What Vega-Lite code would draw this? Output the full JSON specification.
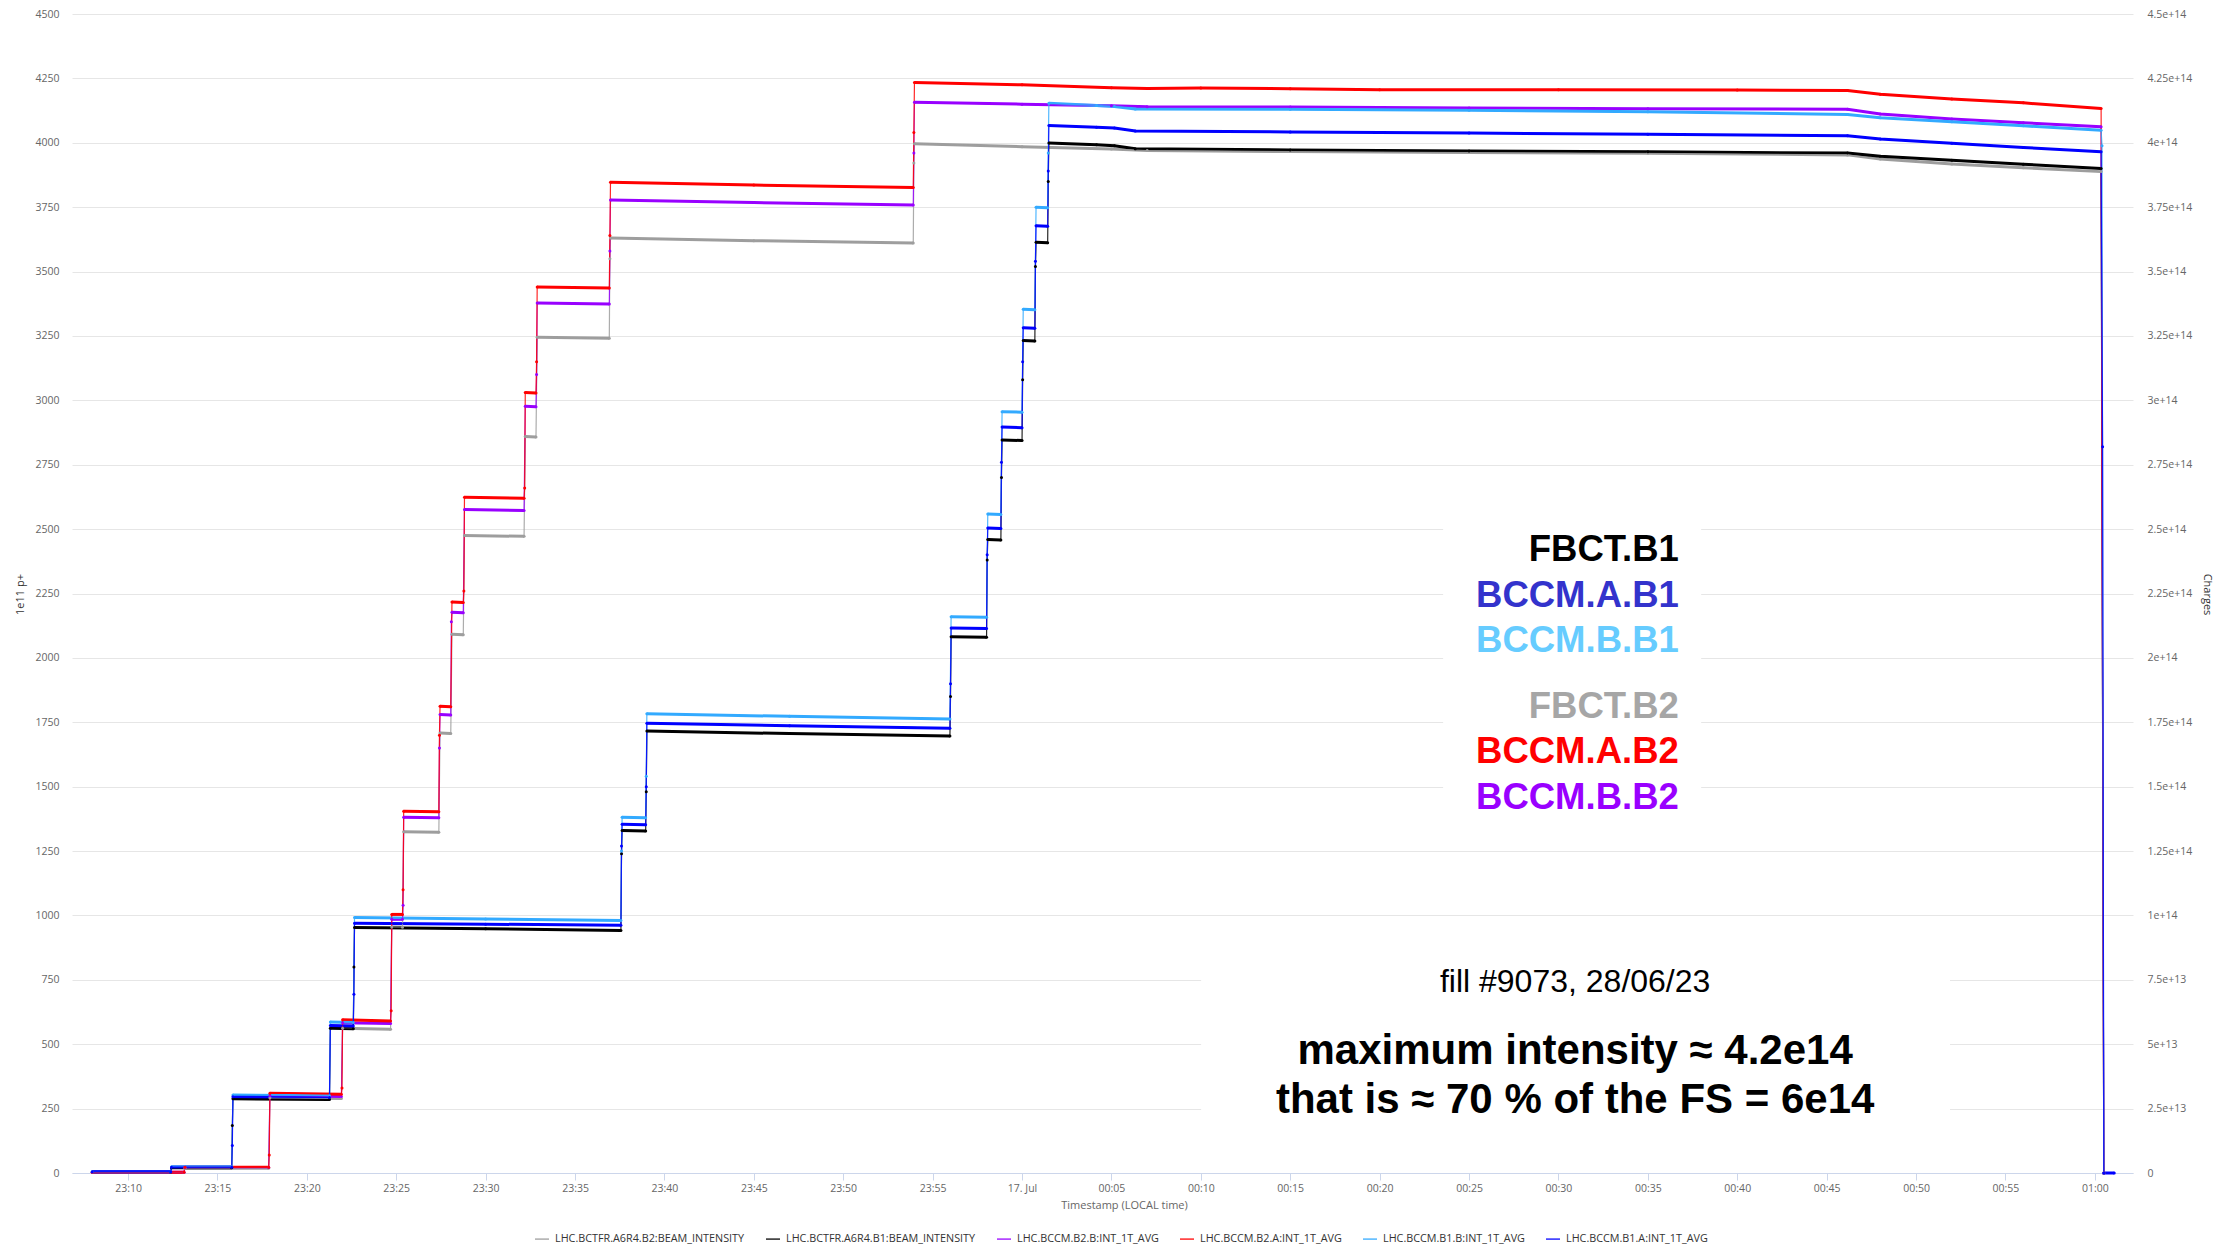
{
  "$schema": "https://vega.github.io/schema/vega-lite/v6.json",
  "width": 2061,
  "height": 1159,
  "autosize": {"type": "none"},
  "padding": {"left": 72, "top": 14, "right": 96, "bottom": 73},
  "background": "white",
  "config": {"view": {"stroke": null}, "font": "Open Sans"},
  "datasets": {
    "series": [
      {"s": "LHC.BCTFR.A6R4.B2:BEAM_INTENSITY", "seg": 1, "t": "2023-07-16T23:08:00Z", "v": 2},
      {"s": "LHC.BCTFR.A6R4.B2:BEAM_INTENSITY", "seg": 1, "t": "2023-07-16T23:13:08Z", "v": 2},
      {"s": "LHC.BCTFR.A6R4.B2:BEAM_INTENSITY", "seg": 2, "t": "2023-07-16T23:13:11Z", "v": 18},
      {"s": "LHC.BCTFR.A6R4.B2:BEAM_INTENSITY", "seg": 2, "t": "2023-07-16T23:17:52Z", "v": 18},
      {"s": "LHC.BCTFR.A6R4.B2:BEAM_INTENSITY", "seg": 3, "t": "2023-07-16T23:17:56Z", "v": 292},
      {"s": "LHC.BCTFR.A6R4.B2:BEAM_INTENSITY", "seg": 3, "t": "2023-07-16T23:21:56Z", "v": 289},
      {"s": "LHC.BCTFR.A6R4.B2:BEAM_INTENSITY", "seg": 4, "t": "2023-07-16T23:22:00Z", "v": 562},
      {"s": "LHC.BCTFR.A6R4.B2:BEAM_INTENSITY", "seg": 4, "t": "2023-07-16T23:24:41Z", "v": 558},
      {"s": "LHC.BCTFR.A6R4.B2:BEAM_INTENSITY", "seg": 5, "t": "2023-07-16T23:24:45Z", "v": 955},
      {"s": "LHC.BCTFR.A6R4.B2:BEAM_INTENSITY", "seg": 5, "t": "2023-07-16T23:25:21Z", "v": 954},
      {"s": "LHC.BCTFR.A6R4.B2:BEAM_INTENSITY", "seg": 6, "t": "2023-07-16T23:25:25Z", "v": 1325},
      {"s": "LHC.BCTFR.A6R4.B2:BEAM_INTENSITY", "seg": 6, "t": "2023-07-16T23:27:23Z", "v": 1323},
      {"s": "LHC.BCTFR.A6R4.B2:BEAM_INTENSITY", "seg": 7, "t": "2023-07-16T23:27:27Z", "v": 1708},
      {"s": "LHC.BCTFR.A6R4.B2:BEAM_INTENSITY", "seg": 7, "t": "2023-07-16T23:28:03Z", "v": 1706},
      {"s": "LHC.BCTFR.A6R4.B2:BEAM_INTENSITY", "seg": 8, "t": "2023-07-16T23:28:07Z", "v": 2092},
      {"s": "LHC.BCTFR.A6R4.B2:BEAM_INTENSITY", "seg": 8, "t": "2023-07-16T23:28:45Z", "v": 2090},
      {"s": "LHC.BCTFR.A6R4.B2:BEAM_INTENSITY", "seg": 9, "t": "2023-07-16T23:28:49Z", "v": 2475},
      {"s": "LHC.BCTFR.A6R4.B2:BEAM_INTENSITY", "seg": 9, "t": "2023-07-16T23:32:09Z", "v": 2472},
      {"s": "LHC.BCTFR.A6R4.B2:BEAM_INTENSITY", "seg": 10, "t": "2023-07-16T23:32:13Z", "v": 2860},
      {"s": "LHC.BCTFR.A6R4.B2:BEAM_INTENSITY", "seg": 10, "t": "2023-07-16T23:32:49Z", "v": 2858},
      {"s": "LHC.BCTFR.A6R4.B2:BEAM_INTENSITY", "seg": 11, "t": "2023-07-16T23:32:53Z", "v": 3245},
      {"s": "LHC.BCTFR.A6R4.B2:BEAM_INTENSITY", "seg": 11, "t": "2023-07-16T23:36:55Z", "v": 3241},
      {"s": "LHC.BCTFR.A6R4.B2:BEAM_INTENSITY", "seg": 50, "t": "2023-07-16T23:36:57Z", "v": 3550},
      {"s": "LHC.BCTFR.A6R4.B2:BEAM_INTENSITY", "seg": 12, "t": "2023-07-16T23:36:59Z", "v": 3630},
      {"s": "LHC.BCTFR.A6R4.B2:BEAM_INTENSITY", "seg": 12, "t": "2023-07-16T23:45:00Z", "v": 3620},
      {"s": "LHC.BCTFR.A6R4.B2:BEAM_INTENSITY", "seg": 12, "t": "2023-07-16T23:53:55Z", "v": 3611},
      {"s": "LHC.BCTFR.A6R4.B2:BEAM_INTENSITY", "seg": 51, "t": "2023-07-16T23:53:57Z", "v": 3921},
      {"s": "LHC.BCTFR.A6R4.B2:BEAM_INTENSITY", "seg": 13, "t": "2023-07-16T23:53:59Z", "v": 3996},
      {"s": "LHC.BCTFR.A6R4.B2:BEAM_INTENSITY", "seg": 13, "t": "2023-07-17T00:00:00Z", "v": 3985},
      {"s": "LHC.BCTFR.A6R4.B2:BEAM_INTENSITY", "seg": 13, "t": "2023-07-17T00:05:00Z", "v": 3976},
      {"s": "LHC.BCTFR.A6R4.B2:BEAM_INTENSITY", "seg": 13, "t": "2023-07-17T00:07:00Z", "v": 3970},
      {"s": "LHC.BCTFR.A6R4.B2:BEAM_INTENSITY", "seg": 13, "t": "2023-07-17T00:15:00Z", "v": 3966},
      {"s": "LHC.BCTFR.A6R4.B2:BEAM_INTENSITY", "seg": 13, "t": "2023-07-17T00:25:00Z", "v": 3962},
      {"s": "LHC.BCTFR.A6R4.B2:BEAM_INTENSITY", "seg": 13, "t": "2023-07-17T00:35:00Z", "v": 3959},
      {"s": "LHC.BCTFR.A6R4.B2:BEAM_INTENSITY", "seg": 13, "t": "2023-07-17T00:46:10Z", "v": 3953},
      {"s": "LHC.BCTFR.A6R4.B2:BEAM_INTENSITY", "seg": 13, "t": "2023-07-17T00:48:00Z", "v": 3937},
      {"s": "LHC.BCTFR.A6R4.B2:BEAM_INTENSITY", "seg": 13, "t": "2023-07-17T00:52:00Z", "v": 3918},
      {"s": "LHC.BCTFR.A6R4.B2:BEAM_INTENSITY", "seg": 13, "t": "2023-07-17T00:56:00Z", "v": 3903},
      {"s": "LHC.BCTFR.A6R4.B2:BEAM_INTENSITY", "seg": 13, "t": "2023-07-17T01:00:21Z", "v": 3888},
      {"s": "LHC.BCTFR.A6R4.B2:BEAM_INTENSITY", "seg": 14, "t": "2023-07-17T01:00:30Z", "v": 0},

      {"s": "LHC.BCTFR.A6R4.B1:BEAM_INTENSITY", "seg": 1, "t": "2023-07-16T23:08:00Z", "v": 4},
      {"s": "LHC.BCTFR.A6R4.B1:BEAM_INTENSITY", "seg": 1, "t": "2023-07-16T23:12:23Z", "v": 4},
      {"s": "LHC.BCTFR.A6R4.B1:BEAM_INTENSITY", "seg": 2, "t": "2023-07-16T23:12:26Z", "v": 20},
      {"s": "LHC.BCTFR.A6R4.B1:BEAM_INTENSITY", "seg": 2, "t": "2023-07-16T23:15:48Z", "v": 20},
      {"s": "LHC.BCTFR.A6R4.B1:BEAM_INTENSITY", "seg": 50, "t": "2023-07-16T23:15:50Z", "v": 184},
      {"s": "LHC.BCTFR.A6R4.B1:BEAM_INTENSITY", "seg": 3, "t": "2023-07-16T23:15:52Z", "v": 288},
      {"s": "LHC.BCTFR.A6R4.B1:BEAM_INTENSITY", "seg": 3, "t": "2023-07-16T23:21:16Z", "v": 285},
      {"s": "LHC.BCTFR.A6R4.B1:BEAM_INTENSITY", "seg": 4, "t": "2023-07-16T23:21:19Z", "v": 562},
      {"s": "LHC.BCTFR.A6R4.B1:BEAM_INTENSITY", "seg": 4, "t": "2023-07-16T23:22:36Z", "v": 560},
      {"s": "LHC.BCTFR.A6R4.B1:BEAM_INTENSITY", "seg": 51, "t": "2023-07-16T23:22:38Z", "v": 800},
      {"s": "LHC.BCTFR.A6R4.B1:BEAM_INTENSITY", "seg": 5, "t": "2023-07-16T23:22:40Z", "v": 953},
      {"s": "LHC.BCTFR.A6R4.B1:BEAM_INTENSITY", "seg": 5, "t": "2023-07-16T23:30:00Z", "v": 948},
      {"s": "LHC.BCTFR.A6R4.B1:BEAM_INTENSITY", "seg": 5, "t": "2023-07-16T23:37:34Z", "v": 942},
      {"s": "LHC.BCTFR.A6R4.B1:BEAM_INTENSITY", "seg": 52, "t": "2023-07-16T23:37:36Z", "v": 1240},
      {"s": "LHC.BCTFR.A6R4.B1:BEAM_INTENSITY", "seg": 6, "t": "2023-07-16T23:37:38Z", "v": 1330},
      {"s": "LHC.BCTFR.A6R4.B1:BEAM_INTENSITY", "seg": 6, "t": "2023-07-16T23:38:57Z", "v": 1328},
      {"s": "LHC.BCTFR.A6R4.B1:BEAM_INTENSITY", "seg": 53, "t": "2023-07-16T23:38:59Z", "v": 1480},
      {"s": "LHC.BCTFR.A6R4.B1:BEAM_INTENSITY", "seg": 7, "t": "2023-07-16T23:39:01Z", "v": 1716},
      {"s": "LHC.BCTFR.A6R4.B1:BEAM_INTENSITY", "seg": 7, "t": "2023-07-16T23:47:00Z", "v": 1706},
      {"s": "LHC.BCTFR.A6R4.B1:BEAM_INTENSITY", "seg": 7, "t": "2023-07-16T23:55:58Z", "v": 1697},
      {"s": "LHC.BCTFR.A6R4.B1:BEAM_INTENSITY", "seg": 54, "t": "2023-07-16T23:56:00Z", "v": 1850},
      {"s": "LHC.BCTFR.A6R4.B1:BEAM_INTENSITY", "seg": 8, "t": "2023-07-16T23:56:02Z", "v": 2082},
      {"s": "LHC.BCTFR.A6R4.B1:BEAM_INTENSITY", "seg": 8, "t": "2023-07-16T23:58:01Z", "v": 2080},
      {"s": "LHC.BCTFR.A6R4.B1:BEAM_INTENSITY", "seg": 55, "t": "2023-07-16T23:58:03Z", "v": 2380},
      {"s": "LHC.BCTFR.A6R4.B1:BEAM_INTENSITY", "seg": 9, "t": "2023-07-16T23:58:05Z", "v": 2460},
      {"s": "LHC.BCTFR.A6R4.B1:BEAM_INTENSITY", "seg": 9, "t": "2023-07-16T23:58:49Z", "v": 2458},
      {"s": "LHC.BCTFR.A6R4.B1:BEAM_INTENSITY", "seg": 56, "t": "2023-07-16T23:58:51Z", "v": 2700},
      {"s": "LHC.BCTFR.A6R4.B1:BEAM_INTENSITY", "seg": 10, "t": "2023-07-16T23:58:53Z", "v": 2846},
      {"s": "LHC.BCTFR.A6R4.B1:BEAM_INTENSITY", "seg": 10, "t": "2023-07-17T00:00:00Z", "v": 2844},
      {"s": "LHC.BCTFR.A6R4.B1:BEAM_INTENSITY", "seg": 57, "t": "2023-07-17T00:00:02Z", "v": 3080},
      {"s": "LHC.BCTFR.A6R4.B1:BEAM_INTENSITY", "seg": 11, "t": "2023-07-17T00:00:04Z", "v": 3232},
      {"s": "LHC.BCTFR.A6R4.B1:BEAM_INTENSITY", "seg": 11, "t": "2023-07-17T00:00:43Z", "v": 3230},
      {"s": "LHC.BCTFR.A6R4.B1:BEAM_INTENSITY", "seg": 58, "t": "2023-07-17T00:00:45Z", "v": 3520},
      {"s": "LHC.BCTFR.A6R4.B1:BEAM_INTENSITY", "seg": 12, "t": "2023-07-17T00:00:47Z", "v": 3614},
      {"s": "LHC.BCTFR.A6R4.B1:BEAM_INTENSITY", "seg": 12, "t": "2023-07-17T00:01:26Z", "v": 3612},
      {"s": "LHC.BCTFR.A6R4.B1:BEAM_INTENSITY", "seg": 59, "t": "2023-07-17T00:01:28Z", "v": 3850},
      {"s": "LHC.BCTFR.A6R4.B1:BEAM_INTENSITY", "seg": 13, "t": "2023-07-17T00:01:30Z", "v": 3999},
      {"s": "LHC.BCTFR.A6R4.B1:BEAM_INTENSITY", "seg": 13, "t": "2023-07-17T00:04:10Z", "v": 3992},
      {"s": "LHC.BCTFR.A6R4.B1:BEAM_INTENSITY", "seg": 13, "t": "2023-07-17T00:05:10Z", "v": 3988},
      {"s": "LHC.BCTFR.A6R4.B1:BEAM_INTENSITY", "seg": 13, "t": "2023-07-17T00:06:20Z", "v": 3977},
      {"s": "LHC.BCTFR.A6R4.B1:BEAM_INTENSITY", "seg": 13, "t": "2023-07-17T00:15:00Z", "v": 3972},
      {"s": "LHC.BCTFR.A6R4.B1:BEAM_INTENSITY", "seg": 13, "t": "2023-07-17T00:25:00Z", "v": 3968},
      {"s": "LHC.BCTFR.A6R4.B1:BEAM_INTENSITY", "seg": 13, "t": "2023-07-17T00:35:00Z", "v": 3965},
      {"s": "LHC.BCTFR.A6R4.B1:BEAM_INTENSITY", "seg": 13, "t": "2023-07-17T00:46:10Z", "v": 3960},
      {"s": "LHC.BCTFR.A6R4.B1:BEAM_INTENSITY", "seg": 13, "t": "2023-07-17T00:48:00Z", "v": 3948},
      {"s": "LHC.BCTFR.A6R4.B1:BEAM_INTENSITY", "seg": 13, "t": "2023-07-17T00:52:00Z", "v": 3932},
      {"s": "LHC.BCTFR.A6R4.B1:BEAM_INTENSITY", "seg": 13, "t": "2023-07-17T00:56:00Z", "v": 3917},
      {"s": "LHC.BCTFR.A6R4.B1:BEAM_INTENSITY", "seg": 13, "t": "2023-07-17T01:00:21Z", "v": 3900},
      {"s": "LHC.BCTFR.A6R4.B1:BEAM_INTENSITY", "seg": 14, "t": "2023-07-17T01:00:30Z", "v": 0},

      {"s": "LHC.BCCM.B2.B:INT_1T_AVG", "seg": 1, "t": "2023-07-16T23:08:00Z", "v": 3},
      {"s": "LHC.BCCM.B2.B:INT_1T_AVG", "seg": 1, "t": "2023-07-16T23:13:08Z", "v": 3},
      {"s": "LHC.BCCM.B2.B:INT_1T_AVG", "seg": 2, "t": "2023-07-16T23:13:11Z", "v": 21},
      {"s": "LHC.BCCM.B2.B:INT_1T_AVG", "seg": 2, "t": "2023-07-16T23:17:52Z", "v": 21},
      {"s": "LHC.BCCM.B2.B:INT_1T_AVG", "seg": 3, "t": "2023-07-16T23:17:56Z", "v": 300},
      {"s": "LHC.BCCM.B2.B:INT_1T_AVG", "seg": 3, "t": "2023-07-16T23:21:56Z", "v": 297},
      {"s": "LHC.BCCM.B2.B:INT_1T_AVG", "seg": 4, "t": "2023-07-16T23:22:00Z", "v": 583},
      {"s": "LHC.BCCM.B2.B:INT_1T_AVG", "seg": 4, "t": "2023-07-16T23:24:41Z", "v": 580},
      {"s": "LHC.BCCM.B2.B:INT_1T_AVG", "seg": 5, "t": "2023-07-16T23:24:45Z", "v": 985},
      {"s": "LHC.BCCM.B2.B:INT_1T_AVG", "seg": 5, "t": "2023-07-16T23:25:21Z", "v": 985},
      {"s": "LHC.BCCM.B2.B:INT_1T_AVG", "seg": 50, "t": "2023-07-16T23:25:23Z", "v": 1040},
      {"s": "LHC.BCCM.B2.B:INT_1T_AVG", "seg": 6, "t": "2023-07-16T23:25:25Z", "v": 1381},
      {"s": "LHC.BCCM.B2.B:INT_1T_AVG", "seg": 6, "t": "2023-07-16T23:27:23Z", "v": 1379},
      {"s": "LHC.BCCM.B2.B:INT_1T_AVG", "seg": 51, "t": "2023-07-16T23:27:25Z", "v": 1650},
      {"s": "LHC.BCCM.B2.B:INT_1T_AVG", "seg": 7, "t": "2023-07-16T23:27:27Z", "v": 1780},
      {"s": "LHC.BCCM.B2.B:INT_1T_AVG", "seg": 7, "t": "2023-07-16T23:28:03Z", "v": 1778},
      {"s": "LHC.BCCM.B2.B:INT_1T_AVG", "seg": 52, "t": "2023-07-16T23:28:05Z", "v": 2140},
      {"s": "LHC.BCCM.B2.B:INT_1T_AVG", "seg": 8, "t": "2023-07-16T23:28:07Z", "v": 2177},
      {"s": "LHC.BCCM.B2.B:INT_1T_AVG", "seg": 8, "t": "2023-07-16T23:28:45Z", "v": 2175},
      {"s": "LHC.BCCM.B2.B:INT_1T_AVG", "seg": 9, "t": "2023-07-16T23:28:49Z", "v": 2576},
      {"s": "LHC.BCCM.B2.B:INT_1T_AVG", "seg": 9, "t": "2023-07-16T23:32:09Z", "v": 2572},
      {"s": "LHC.BCCM.B2.B:INT_1T_AVG", "seg": 10, "t": "2023-07-16T23:32:13Z", "v": 2977},
      {"s": "LHC.BCCM.B2.B:INT_1T_AVG", "seg": 10, "t": "2023-07-16T23:32:49Z", "v": 2975},
      {"s": "LHC.BCCM.B2.B:INT_1T_AVG", "seg": 53, "t": "2023-07-16T23:32:51Z", "v": 3100},
      {"s": "LHC.BCCM.B2.B:INT_1T_AVG", "seg": 11, "t": "2023-07-16T23:32:53Z", "v": 3378},
      {"s": "LHC.BCCM.B2.B:INT_1T_AVG", "seg": 11, "t": "2023-07-16T23:36:55Z", "v": 3374},
      {"s": "LHC.BCCM.B2.B:INT_1T_AVG", "seg": 54, "t": "2023-07-16T23:36:57Z", "v": 3580},
      {"s": "LHC.BCCM.B2.B:INT_1T_AVG", "seg": 12, "t": "2023-07-16T23:36:59Z", "v": 3778},
      {"s": "LHC.BCCM.B2.B:INT_1T_AVG", "seg": 12, "t": "2023-07-16T23:45:00Z", "v": 3768},
      {"s": "LHC.BCCM.B2.B:INT_1T_AVG", "seg": 12, "t": "2023-07-16T23:53:55Z", "v": 3758},
      {"s": "LHC.BCCM.B2.B:INT_1T_AVG", "seg": 55, "t": "2023-07-16T23:53:57Z", "v": 3960},
      {"s": "LHC.BCCM.B2.B:INT_1T_AVG", "seg": 13, "t": "2023-07-16T23:53:59Z", "v": 4157},
      {"s": "LHC.BCCM.B2.B:INT_1T_AVG", "seg": 13, "t": "2023-07-17T00:00:00Z", "v": 4150},
      {"s": "LHC.BCCM.B2.B:INT_1T_AVG", "seg": 13, "t": "2023-07-17T00:05:00Z", "v": 4144},
      {"s": "LHC.BCCM.B2.B:INT_1T_AVG", "seg": 13, "t": "2023-07-17T00:07:00Z", "v": 4140},
      {"s": "LHC.BCCM.B2.B:INT_1T_AVG", "seg": 13, "t": "2023-07-17T00:15:00Z", "v": 4139},
      {"s": "LHC.BCCM.B2.B:INT_1T_AVG", "seg": 13, "t": "2023-07-17T00:25:00Z", "v": 4135},
      {"s": "LHC.BCCM.B2.B:INT_1T_AVG", "seg": 13, "t": "2023-07-17T00:35:00Z", "v": 4132},
      {"s": "LHC.BCCM.B2.B:INT_1T_AVG", "seg": 13, "t": "2023-07-17T00:46:10Z", "v": 4130},
      {"s": "LHC.BCCM.B2.B:INT_1T_AVG", "seg": 13, "t": "2023-07-17T00:48:00Z", "v": 4112},
      {"s": "LHC.BCCM.B2.B:INT_1T_AVG", "seg": 13, "t": "2023-07-17T00:52:00Z", "v": 4092},
      {"s": "LHC.BCCM.B2.B:INT_1T_AVG", "seg": 13, "t": "2023-07-17T00:56:00Z", "v": 4078},
      {"s": "LHC.BCCM.B2.B:INT_1T_AVG", "seg": 13, "t": "2023-07-17T01:00:21Z", "v": 4062},
      {"s": "LHC.BCCM.B2.B:INT_1T_AVG", "seg": 14, "t": "2023-07-17T01:00:30Z", "v": 0},

      {"s": "LHC.BCCM.B2.A:INT_1T_AVG", "seg": 1, "t": "2023-07-16T23:08:00Z", "v": 3},
      {"s": "LHC.BCCM.B2.A:INT_1T_AVG", "seg": 1, "t": "2023-07-16T23:13:08Z", "v": 3},
      {"s": "LHC.BCCM.B2.A:INT_1T_AVG", "seg": 2, "t": "2023-07-16T23:13:11Z", "v": 22},
      {"s": "LHC.BCCM.B2.A:INT_1T_AVG", "seg": 2, "t": "2023-07-16T23:17:52Z", "v": 22},
      {"s": "LHC.BCCM.B2.A:INT_1T_AVG", "seg": 50, "t": "2023-07-16T23:17:54Z", "v": 70},
      {"s": "LHC.BCCM.B2.A:INT_1T_AVG", "seg": 3, "t": "2023-07-16T23:17:56Z", "v": 310},
      {"s": "LHC.BCCM.B2.A:INT_1T_AVG", "seg": 3, "t": "2023-07-16T23:21:56Z", "v": 306},
      {"s": "LHC.BCCM.B2.A:INT_1T_AVG", "seg": 51, "t": "2023-07-16T23:21:58Z", "v": 330},
      {"s": "LHC.BCCM.B2.A:INT_1T_AVG", "seg": 4, "t": "2023-07-16T23:22:00Z", "v": 595},
      {"s": "LHC.BCCM.B2.A:INT_1T_AVG", "seg": 4, "t": "2023-07-16T23:24:41Z", "v": 590},
      {"s": "LHC.BCCM.B2.A:INT_1T_AVG", "seg": 52, "t": "2023-07-16T23:24:43Z", "v": 630},
      {"s": "LHC.BCCM.B2.A:INT_1T_AVG", "seg": 5, "t": "2023-07-16T23:24:45Z", "v": 1004},
      {"s": "LHC.BCCM.B2.A:INT_1T_AVG", "seg": 5, "t": "2023-07-16T23:25:21Z", "v": 1004},
      {"s": "LHC.BCCM.B2.A:INT_1T_AVG", "seg": 53, "t": "2023-07-16T23:25:23Z", "v": 1100},
      {"s": "LHC.BCCM.B2.A:INT_1T_AVG", "seg": 6, "t": "2023-07-16T23:25:25Z", "v": 1405},
      {"s": "LHC.BCCM.B2.A:INT_1T_AVG", "seg": 6, "t": "2023-07-16T23:27:23Z", "v": 1403},
      {"s": "LHC.BCCM.B2.A:INT_1T_AVG", "seg": 54, "t": "2023-07-16T23:27:25Z", "v": 1700},
      {"s": "LHC.BCCM.B2.A:INT_1T_AVG", "seg": 7, "t": "2023-07-16T23:27:27Z", "v": 1812},
      {"s": "LHC.BCCM.B2.A:INT_1T_AVG", "seg": 7, "t": "2023-07-16T23:28:03Z", "v": 1810},
      {"s": "LHC.BCCM.B2.A:INT_1T_AVG", "seg": 8, "t": "2023-07-16T23:28:07Z", "v": 2217},
      {"s": "LHC.BCCM.B2.A:INT_1T_AVG", "seg": 8, "t": "2023-07-16T23:28:45Z", "v": 2215},
      {"s": "LHC.BCCM.B2.A:INT_1T_AVG", "seg": 55, "t": "2023-07-16T23:28:47Z", "v": 2260},
      {"s": "LHC.BCCM.B2.A:INT_1T_AVG", "seg": 9, "t": "2023-07-16T23:28:49Z", "v": 2624},
      {"s": "LHC.BCCM.B2.A:INT_1T_AVG", "seg": 9, "t": "2023-07-16T23:32:09Z", "v": 2620},
      {"s": "LHC.BCCM.B2.A:INT_1T_AVG", "seg": 56, "t": "2023-07-16T23:32:11Z", "v": 2660},
      {"s": "LHC.BCCM.B2.A:INT_1T_AVG", "seg": 10, "t": "2023-07-16T23:32:13Z", "v": 3030},
      {"s": "LHC.BCCM.B2.A:INT_1T_AVG", "seg": 10, "t": "2023-07-16T23:32:49Z", "v": 3028},
      {"s": "LHC.BCCM.B2.A:INT_1T_AVG", "seg": 57, "t": "2023-07-16T23:32:51Z", "v": 3150},
      {"s": "LHC.BCCM.B2.A:INT_1T_AVG", "seg": 11, "t": "2023-07-16T23:32:53Z", "v": 3440},
      {"s": "LHC.BCCM.B2.A:INT_1T_AVG", "seg": 11, "t": "2023-07-16T23:36:55Z", "v": 3436},
      {"s": "LHC.BCCM.B2.A:INT_1T_AVG", "seg": 58, "t": "2023-07-16T23:36:57Z", "v": 3640},
      {"s": "LHC.BCCM.B2.A:INT_1T_AVG", "seg": 12, "t": "2023-07-16T23:36:59Z", "v": 3847},
      {"s": "LHC.BCCM.B2.A:INT_1T_AVG", "seg": 12, "t": "2023-07-16T23:45:00Z", "v": 3836},
      {"s": "LHC.BCCM.B2.A:INT_1T_AVG", "seg": 12, "t": "2023-07-16T23:53:55Z", "v": 3826},
      {"s": "LHC.BCCM.B2.A:INT_1T_AVG", "seg": 59, "t": "2023-07-16T23:53:57Z", "v": 4040},
      {"s": "LHC.BCCM.B2.A:INT_1T_AVG", "seg": 13, "t": "2023-07-16T23:53:59Z", "v": 4234},
      {"s": "LHC.BCCM.B2.A:INT_1T_AVG", "seg": 13, "t": "2023-07-17T00:00:00Z", "v": 4225},
      {"s": "LHC.BCCM.B2.A:INT_1T_AVG", "seg": 13, "t": "2023-07-17T00:05:00Z", "v": 4214},
      {"s": "LHC.BCCM.B2.A:INT_1T_AVG", "seg": 13, "t": "2023-07-17T00:07:00Z", "v": 4211},
      {"s": "LHC.BCCM.B2.A:INT_1T_AVG", "seg": 13, "t": "2023-07-17T00:10:00Z", "v": 4213},
      {"s": "LHC.BCCM.B2.A:INT_1T_AVG", "seg": 13, "t": "2023-07-17T00:15:00Z", "v": 4210},
      {"s": "LHC.BCCM.B2.A:INT_1T_AVG", "seg": 13, "t": "2023-07-17T00:20:00Z", "v": 4206},
      {"s": "LHC.BCCM.B2.A:INT_1T_AVG", "seg": 13, "t": "2023-07-17T00:30:00Z", "v": 4206},
      {"s": "LHC.BCCM.B2.A:INT_1T_AVG", "seg": 13, "t": "2023-07-17T00:40:00Z", "v": 4205},
      {"s": "LHC.BCCM.B2.A:INT_1T_AVG", "seg": 13, "t": "2023-07-17T00:46:10Z", "v": 4203},
      {"s": "LHC.BCCM.B2.A:INT_1T_AVG", "seg": 13, "t": "2023-07-17T00:48:00Z", "v": 4188},
      {"s": "LHC.BCCM.B2.A:INT_1T_AVG", "seg": 13, "t": "2023-07-17T00:52:00Z", "v": 4170},
      {"s": "LHC.BCCM.B2.A:INT_1T_AVG", "seg": 13, "t": "2023-07-17T00:56:00Z", "v": 4155},
      {"s": "LHC.BCCM.B2.A:INT_1T_AVG", "seg": 13, "t": "2023-07-17T01:00:21Z", "v": 4133},
      {"s": "LHC.BCCM.B2.A:INT_1T_AVG", "seg": 14, "t": "2023-07-17T01:00:30Z", "v": 0},

      {"s": "LHC.BCCM.B1.B:INT_1T_AVG", "seg": 1, "t": "2023-07-16T23:08:00Z", "v": 5},
      {"s": "LHC.BCCM.B1.B:INT_1T_AVG", "seg": 1, "t": "2023-07-16T23:12:23Z", "v": 5},
      {"s": "LHC.BCCM.B1.B:INT_1T_AVG", "seg": 2, "t": "2023-07-16T23:12:26Z", "v": 24},
      {"s": "LHC.BCCM.B1.B:INT_1T_AVG", "seg": 2, "t": "2023-07-16T23:15:48Z", "v": 24},
      {"s": "LHC.BCCM.B1.B:INT_1T_AVG", "seg": 3, "t": "2023-07-16T23:15:52Z", "v": 303},
      {"s": "LHC.BCCM.B1.B:INT_1T_AVG", "seg": 3, "t": "2023-07-16T23:21:16Z", "v": 300},
      {"s": "LHC.BCCM.B1.B:INT_1T_AVG", "seg": 4, "t": "2023-07-16T23:21:19Z", "v": 586},
      {"s": "LHC.BCCM.B1.B:INT_1T_AVG", "seg": 4, "t": "2023-07-16T23:22:36Z", "v": 584},
      {"s": "LHC.BCCM.B1.B:INT_1T_AVG", "seg": 5, "t": "2023-07-16T23:22:40Z", "v": 992},
      {"s": "LHC.BCCM.B1.B:INT_1T_AVG", "seg": 5, "t": "2023-07-16T23:30:00Z", "v": 986},
      {"s": "LHC.BCCM.B1.B:INT_1T_AVG", "seg": 5, "t": "2023-07-16T23:37:34Z", "v": 980},
      {"s": "LHC.BCCM.B1.B:INT_1T_AVG", "seg": 50, "t": "2023-07-16T23:37:36Z", "v": 1250},
      {"s": "LHC.BCCM.B1.B:INT_1T_AVG", "seg": 6, "t": "2023-07-16T23:37:38Z", "v": 1381},
      {"s": "LHC.BCCM.B1.B:INT_1T_AVG", "seg": 6, "t": "2023-07-16T23:38:57Z", "v": 1379},
      {"s": "LHC.BCCM.B1.B:INT_1T_AVG", "seg": 51, "t": "2023-07-16T23:38:59Z", "v": 1540},
      {"s": "LHC.BCCM.B1.B:INT_1T_AVG", "seg": 7, "t": "2023-07-16T23:39:01Z", "v": 1783},
      {"s": "LHC.BCCM.B1.B:INT_1T_AVG", "seg": 7, "t": "2023-07-16T23:47:00Z", "v": 1773},
      {"s": "LHC.BCCM.B1.B:INT_1T_AVG", "seg": 7, "t": "2023-07-16T23:55:58Z", "v": 1763},
      {"s": "LHC.BCCM.B1.B:INT_1T_AVG", "seg": 8, "t": "2023-07-16T23:56:02Z", "v": 2160},
      {"s": "LHC.BCCM.B1.B:INT_1T_AVG", "seg": 8, "t": "2023-07-16T23:58:01Z", "v": 2158},
      {"s": "LHC.BCCM.B1.B:INT_1T_AVG", "seg": 9, "t": "2023-07-16T23:58:05Z", "v": 2559},
      {"s": "LHC.BCCM.B1.B:INT_1T_AVG", "seg": 9, "t": "2023-07-16T23:58:49Z", "v": 2557},
      {"s": "LHC.BCCM.B1.B:INT_1T_AVG", "seg": 10, "t": "2023-07-16T23:58:53Z", "v": 2956},
      {"s": "LHC.BCCM.B1.B:INT_1T_AVG", "seg": 10, "t": "2023-07-17T00:00:00Z", "v": 2954},
      {"s": "LHC.BCCM.B1.B:INT_1T_AVG", "seg": 11, "t": "2023-07-17T00:00:04Z", "v": 3354},
      {"s": "LHC.BCCM.B1.B:INT_1T_AVG", "seg": 11, "t": "2023-07-17T00:00:43Z", "v": 3352},
      {"s": "LHC.BCCM.B1.B:INT_1T_AVG", "seg": 12, "t": "2023-07-17T00:00:47Z", "v": 3750},
      {"s": "LHC.BCCM.B1.B:INT_1T_AVG", "seg": 12, "t": "2023-07-17T00:01:26Z", "v": 3748},
      {"s": "LHC.BCCM.B1.B:INT_1T_AVG", "seg": 52, "t": "2023-07-17T00:01:28Z", "v": 3960},
      {"s": "LHC.BCCM.B1.B:INT_1T_AVG", "seg": 13, "t": "2023-07-17T00:01:30Z", "v": 4153},
      {"s": "LHC.BCCM.B1.B:INT_1T_AVG", "seg": 13, "t": "2023-07-17T00:04:10Z", "v": 4145},
      {"s": "LHC.BCCM.B1.B:INT_1T_AVG", "seg": 13, "t": "2023-07-17T00:05:10Z", "v": 4141},
      {"s": "LHC.BCCM.B1.B:INT_1T_AVG", "seg": 13, "t": "2023-07-17T00:06:20Z", "v": 4131},
      {"s": "LHC.BCCM.B1.B:INT_1T_AVG", "seg": 13, "t": "2023-07-17T00:15:00Z", "v": 4130},
      {"s": "LHC.BCCM.B1.B:INT_1T_AVG", "seg": 13, "t": "2023-07-17T00:25:00Z", "v": 4126},
      {"s": "LHC.BCCM.B1.B:INT_1T_AVG", "seg": 13, "t": "2023-07-17T00:35:00Z", "v": 4120},
      {"s": "LHC.BCCM.B1.B:INT_1T_AVG", "seg": 13, "t": "2023-07-17T00:46:10Z", "v": 4110},
      {"s": "LHC.BCCM.B1.B:INT_1T_AVG", "seg": 13, "t": "2023-07-17T00:48:00Z", "v": 4097},
      {"s": "LHC.BCCM.B1.B:INT_1T_AVG", "seg": 13, "t": "2023-07-17T00:52:00Z", "v": 4082},
      {"s": "LHC.BCCM.B1.B:INT_1T_AVG", "seg": 13, "t": "2023-07-17T00:56:00Z", "v": 4066},
      {"s": "LHC.BCCM.B1.B:INT_1T_AVG", "seg": 13, "t": "2023-07-17T01:00:21Z", "v": 4049},
      {"s": "LHC.BCCM.B1.B:INT_1T_AVG", "seg": 53, "t": "2023-07-17T01:00:24Z", "v": 3988},
      {"s": "LHC.BCCM.B1.B:INT_1T_AVG", "seg": 14, "t": "2023-07-17T01:00:30Z", "v": 0},

      {"s": "LHC.BCCM.B1.A:INT_1T_AVG", "seg": 1, "t": "2023-07-16T23:08:00Z", "v": 5},
      {"s": "LHC.BCCM.B1.A:INT_1T_AVG", "seg": 1, "t": "2023-07-16T23:12:23Z", "v": 5},
      {"s": "LHC.BCCM.B1.A:INT_1T_AVG", "seg": 2, "t": "2023-07-16T23:12:26Z", "v": 22},
      {"s": "LHC.BCCM.B1.A:INT_1T_AVG", "seg": 2, "t": "2023-07-16T23:15:48Z", "v": 22},
      {"s": "LHC.BCCM.B1.A:INT_1T_AVG", "seg": 50, "t": "2023-07-16T23:15:50Z", "v": 107},
      {"s": "LHC.BCCM.B1.A:INT_1T_AVG", "seg": 3, "t": "2023-07-16T23:15:52Z", "v": 296},
      {"s": "LHC.BCCM.B1.A:INT_1T_AVG", "seg": 3, "t": "2023-07-16T23:21:16Z", "v": 293},
      {"s": "LHC.BCCM.B1.A:INT_1T_AVG", "seg": 4, "t": "2023-07-16T23:21:19Z", "v": 573},
      {"s": "LHC.BCCM.B1.A:INT_1T_AVG", "seg": 4, "t": "2023-07-16T23:22:36Z", "v": 571},
      {"s": "LHC.BCCM.B1.A:INT_1T_AVG", "seg": 51, "t": "2023-07-16T23:22:38Z", "v": 694},
      {"s": "LHC.BCCM.B1.A:INT_1T_AVG", "seg": 5, "t": "2023-07-16T23:22:40Z", "v": 970},
      {"s": "LHC.BCCM.B1.A:INT_1T_AVG", "seg": 5, "t": "2023-07-16T23:30:00Z", "v": 966},
      {"s": "LHC.BCCM.B1.A:INT_1T_AVG", "seg": 5, "t": "2023-07-16T23:37:34Z", "v": 962},
      {"s": "LHC.BCCM.B1.A:INT_1T_AVG", "seg": 52, "t": "2023-07-16T23:37:36Z", "v": 1270},
      {"s": "LHC.BCCM.B1.A:INT_1T_AVG", "seg": 6, "t": "2023-07-16T23:37:38Z", "v": 1354},
      {"s": "LHC.BCCM.B1.A:INT_1T_AVG", "seg": 6, "t": "2023-07-16T23:38:57Z", "v": 1352},
      {"s": "LHC.BCCM.B1.A:INT_1T_AVG", "seg": 53, "t": "2023-07-16T23:38:59Z", "v": 1500},
      {"s": "LHC.BCCM.B1.A:INT_1T_AVG", "seg": 7, "t": "2023-07-16T23:39:01Z", "v": 1746},
      {"s": "LHC.BCCM.B1.A:INT_1T_AVG", "seg": 7, "t": "2023-07-16T23:47:00Z", "v": 1737},
      {"s": "LHC.BCCM.B1.A:INT_1T_AVG", "seg": 7, "t": "2023-07-16T23:55:58Z", "v": 1727},
      {"s": "LHC.BCCM.B1.A:INT_1T_AVG", "seg": 54, "t": "2023-07-16T23:56:00Z", "v": 1900},
      {"s": "LHC.BCCM.B1.A:INT_1T_AVG", "seg": 8, "t": "2023-07-16T23:56:02Z", "v": 2116},
      {"s": "LHC.BCCM.B1.A:INT_1T_AVG", "seg": 8, "t": "2023-07-16T23:58:01Z", "v": 2114},
      {"s": "LHC.BCCM.B1.A:INT_1T_AVG", "seg": 55, "t": "2023-07-16T23:58:03Z", "v": 2400},
      {"s": "LHC.BCCM.B1.A:INT_1T_AVG", "seg": 9, "t": "2023-07-16T23:58:05Z", "v": 2504},
      {"s": "LHC.BCCM.B1.A:INT_1T_AVG", "seg": 9, "t": "2023-07-16T23:58:49Z", "v": 2502},
      {"s": "LHC.BCCM.B1.A:INT_1T_AVG", "seg": 56, "t": "2023-07-16T23:58:51Z", "v": 2760},
      {"s": "LHC.BCCM.B1.A:INT_1T_AVG", "seg": 10, "t": "2023-07-16T23:58:53Z", "v": 2896},
      {"s": "LHC.BCCM.B1.A:INT_1T_AVG", "seg": 10, "t": "2023-07-17T00:00:00Z", "v": 2894},
      {"s": "LHC.BCCM.B1.A:INT_1T_AVG", "seg": 57, "t": "2023-07-17T00:00:02Z", "v": 3150},
      {"s": "LHC.BCCM.B1.A:INT_1T_AVG", "seg": 11, "t": "2023-07-17T00:00:04Z", "v": 3282},
      {"s": "LHC.BCCM.B1.A:INT_1T_AVG", "seg": 11, "t": "2023-07-17T00:00:43Z", "v": 3280},
      {"s": "LHC.BCCM.B1.A:INT_1T_AVG", "seg": 58, "t": "2023-07-17T00:00:45Z", "v": 3540},
      {"s": "LHC.BCCM.B1.A:INT_1T_AVG", "seg": 12, "t": "2023-07-17T00:00:47Z", "v": 3678},
      {"s": "LHC.BCCM.B1.A:INT_1T_AVG", "seg": 12, "t": "2023-07-17T00:01:26Z", "v": 3676},
      {"s": "LHC.BCCM.B1.A:INT_1T_AVG", "seg": 59, "t": "2023-07-17T00:01:28Z", "v": 3890},
      {"s": "LHC.BCCM.B1.A:INT_1T_AVG", "seg": 13, "t": "2023-07-17T00:01:30Z", "v": 4067},
      {"s": "LHC.BCCM.B1.A:INT_1T_AVG", "seg": 13, "t": "2023-07-17T00:04:10Z", "v": 4060},
      {"s": "LHC.BCCM.B1.A:INT_1T_AVG", "seg": 13, "t": "2023-07-17T00:05:10Z", "v": 4057},
      {"s": "LHC.BCCM.B1.A:INT_1T_AVG", "seg": 13, "t": "2023-07-17T00:06:20Z", "v": 4046},
      {"s": "LHC.BCCM.B1.A:INT_1T_AVG", "seg": 13, "t": "2023-07-17T00:15:00Z", "v": 4042},
      {"s": "LHC.BCCM.B1.A:INT_1T_AVG", "seg": 13, "t": "2023-07-17T00:25:00Z", "v": 4038},
      {"s": "LHC.BCCM.B1.A:INT_1T_AVG", "seg": 13, "t": "2023-07-17T00:35:00Z", "v": 4033},
      {"s": "LHC.BCCM.B1.A:INT_1T_AVG", "seg": 13, "t": "2023-07-17T00:46:10Z", "v": 4027},
      {"s": "LHC.BCCM.B1.A:INT_1T_AVG", "seg": 13, "t": "2023-07-17T00:48:00Z", "v": 4015},
      {"s": "LHC.BCCM.B1.A:INT_1T_AVG", "seg": 13, "t": "2023-07-17T00:52:00Z", "v": 3998},
      {"s": "LHC.BCCM.B1.A:INT_1T_AVG", "seg": 13, "t": "2023-07-17T00:56:00Z", "v": 3982},
      {"s": "LHC.BCCM.B1.A:INT_1T_AVG", "seg": 13, "t": "2023-07-17T01:00:21Z", "v": 3965},
      {"s": "LHC.BCCM.B1.A:INT_1T_AVG", "seg": 60, "t": "2023-07-17T01:00:26Z", "v": 2820},
      {"s": "LHC.BCCM.B1.A:INT_1T_AVG", "seg": 14, "t": "2023-07-17T01:00:30Z", "v": 0},
      {"s": "LHC.BCCM.B1.A:INT_1T_AVG", "seg": 14, "t": "2023-07-17T01:01:05Z", "v": 0}
    ],
    "boxes": [
      {"t": "2023-07-17T00:23:33Z", "t2": "2023-07-17T00:37:59Z", "v": 1400, "v2": 2560},
      {"t": "2023-07-17T00:10:01Z", "t2": "2023-07-17T00:51:54Z", "v": 60, "v2": 880}
    ],
    "labels": [
      {"txt": "FBCT.B1", "t": "2023-07-17T00:36:44Z", "v": 2419},
      {"txt": "BCCM.A.B1", "t": "2023-07-17T00:36:44Z", "v": 2240},
      {"txt": "BCCM.B.B1", "t": "2023-07-17T00:36:44Z", "v": 2065},
      {"txt": "FBCT.B2", "t": "2023-07-17T00:36:44Z", "v": 1809},
      {"txt": "BCCM.A.B2", "t": "2023-07-17T00:36:44Z", "v": 1634},
      {"txt": "BCCM.B.B2", "t": "2023-07-17T00:36:44Z", "v": 1456}
    ]
  },
  "layer": [
    {
      "layer": [
        {
          "data": {"name": "boxes"},
          "mark": {"type": "rect", "fill": "white"},
          "encoding": {
            "x": {"field": "t", "type": "temporal", "scale": {"type": "utc"}},
            "x2": {"field": "t2"},
            "y": {"field": "v", "type": "quantitative", "scale": {"domain": [0, 4500]}},
            "y2": {"field": "v2"}
          }
        },
        {
          "data": {"name": "series"},
          "mark": {"type": "line", "strokeWidth": 3, "interpolate": "linear"},
          "encoding": {
            "x": {"field": "t", "type": "temporal", "scale": {"type": "utc"}},
            "y": {"field": "v", "type": "quantitative", "scale": {"domain": [0, 4500]}},
            "color": {"field": "s", "type": "nominal"},
            "detail": {"field": "seg", "type": "nominal"}
          }
        },
        {
          "data": {"name": "series"},
          "mark": {"type": "line", "strokeWidth": 1.2, "opacity": 0.85, "interpolate": "linear", "point": {"filled": true, "size": 9}},
          "encoding": {
            "x": {
              "field": "t",
              "type": "temporal",
              "scale": {
                "type": "utc",
                "domain": [
                  {"year": 2023, "month": 7, "date": 16, "hours": 23, "minutes": 6, "seconds": 52, "utc": true},
                  {"year": 2023, "month": 7, "date": 17, "hours": 1, "minutes": 2, "seconds": 8, "utc": true}
                ]
              },
              "axis": {
                "title": "Timestamp (LOCAL time)",
                "grid": false,
                "domainColor": "#ccd6eb",
                "tickColor": "#ccd6eb",
                "tickSize": 7,
                "values": [
                  {"year": 2023, "month": 7, "date": 16, "hours": 23, "minutes": 10, "utc": true},
                  {"year": 2023, "month": 7, "date": 16, "hours": 23, "minutes": 15, "utc": true},
                  {"year": 2023, "month": 7, "date": 16, "hours": 23, "minutes": 20, "utc": true},
                  {"year": 2023, "month": 7, "date": 16, "hours": 23, "minutes": 25, "utc": true},
                  {"year": 2023, "month": 7, "date": 16, "hours": 23, "minutes": 30, "utc": true},
                  {"year": 2023, "month": 7, "date": 16, "hours": 23, "minutes": 35, "utc": true},
                  {"year": 2023, "month": 7, "date": 16, "hours": 23, "minutes": 40, "utc": true},
                  {"year": 2023, "month": 7, "date": 16, "hours": 23, "minutes": 45, "utc": true},
                  {"year": 2023, "month": 7, "date": 16, "hours": 23, "minutes": 50, "utc": true},
                  {"year": 2023, "month": 7, "date": 16, "hours": 23, "minutes": 55, "utc": true},
                  {"year": 2023, "month": 7, "date": 17, "hours": 0, "minutes": 0, "utc": true},
                  {"year": 2023, "month": 7, "date": 17, "hours": 0, "minutes": 5, "utc": true},
                  {"year": 2023, "month": 7, "date": 17, "hours": 0, "minutes": 10, "utc": true},
                  {"year": 2023, "month": 7, "date": 17, "hours": 0, "minutes": 15, "utc": true},
                  {"year": 2023, "month": 7, "date": 17, "hours": 0, "minutes": 20, "utc": true},
                  {"year": 2023, "month": 7, "date": 17, "hours": 0, "minutes": 25, "utc": true},
                  {"year": 2023, "month": 7, "date": 17, "hours": 0, "minutes": 30, "utc": true},
                  {"year": 2023, "month": 7, "date": 17, "hours": 0, "minutes": 35, "utc": true},
                  {"year": 2023, "month": 7, "date": 17, "hours": 0, "minutes": 40, "utc": true},
                  {"year": 2023, "month": 7, "date": 17, "hours": 0, "minutes": 45, "utc": true},
                  {"year": 2023, "month": 7, "date": 17, "hours": 0, "minutes": 50, "utc": true},
                  {"year": 2023, "month": 7, "date": 17, "hours": 0, "minutes": 55, "utc": true},
                  {"year": 2023, "month": 7, "date": 17, "hours": 1, "minutes": 0, "utc": true}
                ],
                "labelExpr": "utcFormat(datum.value, '%H:%M') == '00:00' ? '17. Jul' : utcFormat(datum.value, '%H:%M')",
                "labelColor": "#666666",
                "labelFontSize": 10.5,
                "labelPadding": 3,
                "labelFlush": false,
                "labelOverlap": false,
                "titleColor": "#666666",
                "titleFontSize": 11,
                "titleFontWeight": "normal",
                "titlePadding": 6,
                "titleX": 1052
              }
            },
            "y": {
              "field": "v",
              "type": "quantitative",
              "scale": {"domain": [0, 4500], "nice": false},
              "axis": {
                "title": "1e11 p+",
                "values": [0, 250, 500, 750, 1000, 1250, 1500, 1750, 2000, 2250, 2500, 2750, 3000, 3250, 3500, 3750, 4000, 4250, 4500],
                "format": "d",
                "grid": true,
                "gridColor": "#e6e6e6",
                "domain": false,
                "ticks": false,
                "labelColor": "#666666",
                "labelFontSize": 10.5,
                "labelPadding": 13,
                "titleColor": "#333333",
                "titleFontSize": 11,
                "titleFontWeight": "normal",
                "titleAngle": -90,
                "titleBaseline": "middle",
                "titleX": -52,
                "titleY": 580
              }
            },
            "color": {
              "field": "s",
              "type": "nominal",
              "scale": {
                "domain": ["LHC.BCTFR.A6R4.B2:BEAM_INTENSITY", "LHC.BCTFR.A6R4.B1:BEAM_INTENSITY", "LHC.BCCM.B2.B:INT_1T_AVG", "LHC.BCCM.B2.A:INT_1T_AVG", "LHC.BCCM.B1.B:INT_1T_AVG", "LHC.BCCM.B1.A:INT_1T_AVG"],
                "range": ["#9e9e9e", "#000000", "#9900ff", "#ff0000", "#33aaff", "#0000ff"]
              },
              "legend": {
                "title": null,
                "orient": "none",
                "direction": "horizontal",
                "columns": 6,
                "legendX": 462,
                "legendY": 1217,
                "symbolType": "stroke",
                "symbolSize": 196,
                "symbolStrokeWidth": 1.5,
                "labelFontSize": 10.8,
                "labelLimit": 400,
                "labelColor": "#333333",
                "labelOffset": 5,
                "columnPadding": 18
              }
            },
            "detail": {"field": "s", "type": "nominal"}
          }
        },
        {
          "data": {"name": "labels"},
          "mark": {"type": "text", "align": "right", "baseline": "middle", "font": "Liberation Sans", "fontWeight": "bold", "fontSize": 36.5},
          "encoding": {
            "x": {"field": "t", "type": "temporal", "scale": {"type": "utc"}},
            "y": {"field": "v", "type": "quantitative", "scale": {"domain": [0, 4500]}},
            "text": {"field": "txt", "type": "nominal"},
            "fill": {
              "field": "txt",
              "type": "nominal",
              "scale": {
                "domain": ["FBCT.B1", "BCCM.A.B1", "BCCM.B.B1", "FBCT.B2", "BCCM.A.B2", "BCCM.B.B2"],
                "range": ["#000000", "#3333cc", "#66ccff", "#a6a6a6", "#ff0000", "#9900ff"]
              },
              "legend": null
            }
          }
        },
        {
          "data": {"values": [{"txt": "fill #9073, 28/06/23", "t": "2023-07-17T00:30:56Z", "v": 741}]},
          "mark": {"type": "text", "align": "center", "baseline": "middle", "font": "Liberation Sans", "fontSize": 32, "fill": "#000000"},
          "encoding": {
            "x": {"field": "t", "type": "temporal", "scale": {"type": "utc"}},
            "y": {"field": "v", "type": "quantitative", "scale": {"domain": [0, 4500]}},
            "text": {"field": "txt", "type": "nominal"}
          }
        },
        {
          "data": {"values": [
            {"txt": "maximum intensity ≈ 4.2e14", "t": "2023-07-17T00:30:56Z", "v": 474},
            {"txt": "that is ≈ 70 % of the FS = 6e14", "t": "2023-07-17T00:30:56Z", "v": 283}
          ]},
          "mark": {"type": "text", "align": "center", "baseline": "middle", "font": "Liberation Sans", "fontWeight": "bold", "fontSize": 42, "fill": "#000000"},
          "encoding": {
            "x": {"field": "t", "type": "temporal", "scale": {"type": "utc"}},
            "y": {"field": "v", "type": "quantitative", "scale": {"domain": [0, 4500]}},
            "text": {"field": "txt", "type": "nominal"}
          }
        }
      ]
    },
    {
      "data": {"name": "series"},
      "mark": {"type": "point", "opacity": 0},
      "encoding": {
        "x": {"field": "t", "type": "temporal", "scale": {"type": "utc"}},
        "y": {
          "field": "v",
          "type": "quantitative",
          "scale": {"domain": [0, 4500], "nice": false},
          "axis": {
            "orient": "right",
            "title": "Charges",
            "values": [0, 250, 500, 750, 1000, 1250, 1500, 1750, 2000, 2250, 2500, 2750, 3000, 3250, 3500, 3750, 4000, 4250, 4500],
            "labelExpr": "datum.value == 0 ? '0' : format(datum.value * 1e11, '~e')",
            "grid": false,
            "domain": false,
            "ticks": false,
            "labelColor": "#666666",
            "labelFontSize": 10.5,
            "labelPadding": 14,
            "titleColor": "#333333",
            "titleFontSize": 11,
            "titleFontWeight": "normal",
            "titleAngle": 90,
            "titleBaseline": "middle",
            "titleX": 73,
            "titleY": 580
          }
        }
      }
    }
  ],
  "resolve": {"scale": {"y": "independent"}}
}
